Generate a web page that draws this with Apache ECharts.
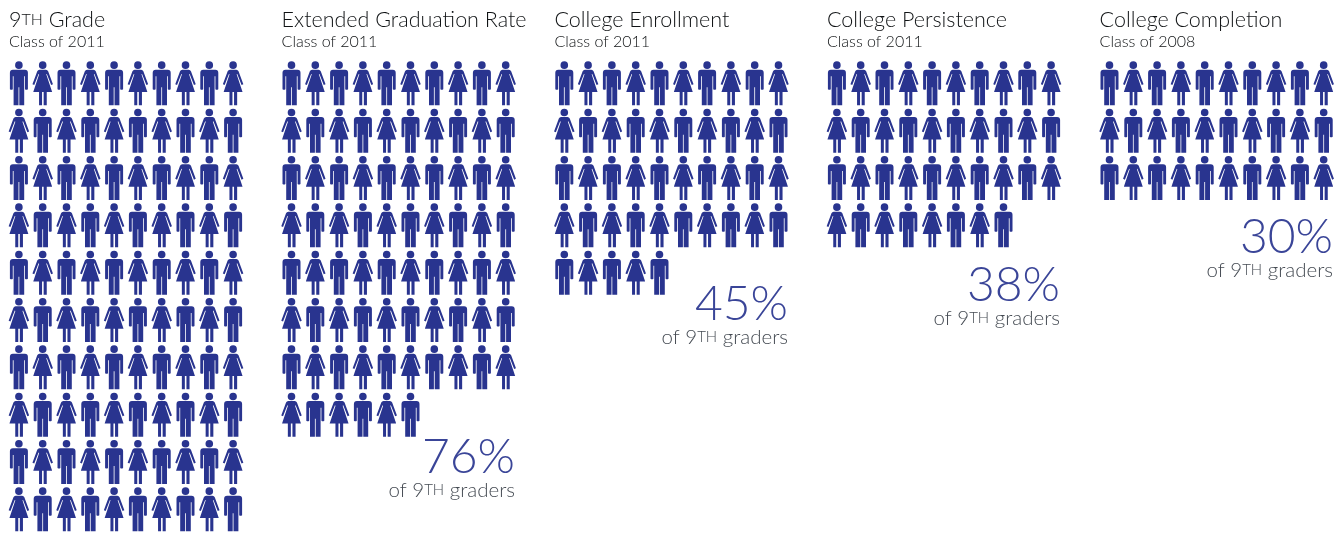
<!DOCTYPE html>
<html><head><meta charset="utf-8">
<style>html,body{margin:0;padding:0;background:#fff}#c{width:1339px;height:533px}</style>
<script src="https://cdn.jsdelivr.net/npm/echarts@6/dist/echarts.min.js"></script>
</head><body><div id="c"></div>
<script>
const categories = ['9{s|TH} Grade','Extended Graduation Rate','College Enrollment','College Persistence','College Completion'];
const cohorts = ['Class of 2011','Class of 2011','Class of 2011','Class of 2011','Class of 2008'];
const counts = [100,76,45,38,30];
const notes = ['', 'of 9{s|TH} graders','of 9{s|TH} graders','of 9{s|TH} graders','of 9{s|TH} graders'];

const FONT = 'Lato, "Open Sans", sans-serif';
const INK = '#0f1214', BLUE = '#29348f', PCT = '#3a4598', NOTE = '#454b53';
const MAN = 'path://M9 0a3.8 3.8 0 1 1-.01 0ZM3 8.3H15Q18 8.3 18 11.3V28Q16.4 29 15.1 28V15H14.3V44H9.4V26H8.6V44H3.7V15H2.9V28Q1.6 29 0 28V11.3Q0 8.3 3 8.3Z';
const WOMAN = 'path://M10.25 0a3.8 3.8 0 1 1-.01 0ZM7 8.3H13.5Q15 8.3 15.7 9.8L20.5 22.8 18.7 23.6 14.4 12.6 13.8 13 19.7 30.7H14.3V44H11.2V30.7H9.6V44H6.6V30.7H.8L6.7 13 6.1 12.6 1.8 23.6 0 22.8 4.8 9.8Q5.5 8.3 7 8.3Z';

const panelLeft = [7,279.6,552.4,825,1097.6];
const panelRight = [0,515,788,1060,1333];
const noteTop = [0,434,281,262,214];
const perRow = 10, rowCount = 10;

const grids=[],xAxes=[],yAxes=[],series=[],titles=[];
counts.forEach((n,p)=>{
  grids.push({left:panelLeft[p],top:59.7,width:238,height:474});
  xAxes.push({gridIndex:p,type:'value',min:0,max:perRow,show:false});
  yAxes.push({gridIndex:p,type:'value',min:0,max:rowCount,inverse:true,show:false});
  const data=[];
  for(let i=0;i<n;i++){
    const c=i%perRow,r=Math.floor(i/perRow),man=(c+r)%2===0;
    data.push({value:[c+.5,r+.5],symbol:man?MAN:WOMAN,symbolSize:man?[18,44]:[20.5,44]});
  }
  series.push({type:'scatter',name:categories[p],xAxisIndex:p,yAxisIndex:p,data,itemStyle:{color:BLUE,opacity:1},silent:true,animation:false});
  titles.push({left:panelLeft[p]+2,top:9,padding:0,text:categories[p],itemGap:2.5,
    textStyle:{fontFamily:FONT,fontSize:21.5,fontWeight:300,color:INK,rich:{s:{fontFamily:FONT,fontSize:16,fontWeight:300,color:INK}}},
    subtext:cohorts[p],subtextStyle:{fontFamily:FONT,fontSize:16,fontWeight:300,color:INK}});
  if(notes[p]){
    titles.push({left:panelRight[p],top:noteTop[p],padding:0,textAlign:'right',text:n+'%',textStyle:{fontFamily:FONT,fontSize:48,fontWeight:300,color:PCT}});
    titles.push({left:panelRight[p],top:noteTop[p]+46,padding:0,textAlign:'right',text:notes[p],
      textStyle:{fontFamily:FONT,fontSize:20.5,fontWeight:300,color:NOTE,rich:{s:{fontFamily:FONT,fontSize:15,fontWeight:300,color:NOTE}}}});
  }
});
const chart=echarts.init(document.getElementById('c'));
chart.setOption({animation:false,backgroundColor:'#fff',title:titles,grid:grids,xAxis:xAxes,yAxis:yAxes,series});
</script></body></html>
